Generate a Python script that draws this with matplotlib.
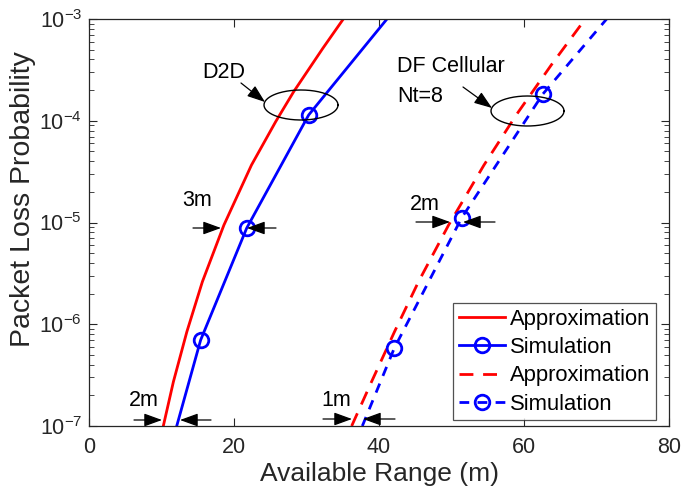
import numpy as np
import matplotlib
matplotlib.use('Agg')
import matplotlib.pyplot as plt

plt.rcParams['font.family'] = ['Liberation Sans', 'DejaVu Sans']
plt.rcParams['mathtext.fontset'] = 'custom'
plt.rcParams['mathtext.rm'] = 'Liberation Sans'
plt.rcParams['mathtext.it'] = 'Liberation Sans'

# D2D, approximation (solid red)
d2d_app_x = [10.25, 11.64, 13.50, 15.64, 18.61, 22.41, 25.75, 28.23, 32.25, 35.08]
d2d_app_y = [1e-7, 2.72e-7, 8.45e-7, 2.62e-6, 9.44e-6, 3.67e-5, 9.8e-5, 1.93e-4, 5.15e-4, 1e-3]

# D2D, simulation (solid blue)
d2d_sim_x = [12.1, 15.4, 21.75, 30.3, 41.1]
d2d_sim_y = [1e-7, 7.0e-7, 8.8e-6, 1.14e-4, 1e-3]
d2d_sim_mark = [1, 2, 3]

# DF cellular Nt=8, approximation (dashed red)
df_app_x = [36.23, 38.97, 42.14, 45.45, 49.60, 54.48, 58.93, 63.76, 68.45]
df_app_y = [1e-7, 2.72e-7, 8.45e-7, 2.62e-6, 9.44e-6, 3.67e-5, 1.14e-4, 3.53e-4, 1e-3]

# DF cellular Nt=8, simulation (dashed blue)
df_sim_x = [37.7, 42.1, 51.4, 62.6, 71.4]
df_sim_y = [1e-7, 5.8e-7, 1.11e-5, 1.83e-4, 1e-3]
df_sim_mark = [1, 2, 3]

legend_labels = ['Approximation', 'Simulation', 'Approximation', 'Simulation']

ARROW = dict(arrowstyle='-|>,head_length=1.1,head_width=0.4',
             color='k', lw=0.9, shrinkA=0, shrinkB=0)


# pixel position in the reference -> data coordinates
def px2data(px, py):
    return (px - 89) / 7.25, 10 ** (-3 - (py - 19) / 101.75)


# draw an ellipse that looks round on the log y axis
def log_ellipse(ax, cpx, cpy, wpx, hpx):
    t = np.linspace(0, 2 * np.pi, 200)
    xs = cpx + wpx / 2 * np.cos(t)
    ys = cpy + hpx / 2 * np.sin(t)
    x, y = px2data(xs, ys)
    ax.plot(x, y, color='k', lw=1.0, zorder=5)


def arrow(ax, p0, p1):
    ax.annotate('', xy=px2data(*p1), xytext=px2data(*p0), arrowprops=ARROW, zorder=6)


# two opposite arrows at one level
def gap_arrows(ax, py, l0, l1, r0, r1):
    arrow(ax, (l0, py), (l1, py))
    arrow(ax, (r0, py), (r1, py))


fig = plt.figure(figsize=(6.81, 4.87), dpi=100)
ax = fig.add_axes([89 / 681, 1 - 426 / 487, 580 / 681, 407 / 487])

ax.plot(d2d_app_x, d2d_app_y, '-', color='r', lw=2, label=legend_labels[0])
ax.plot(d2d_sim_x, d2d_sim_y, '-o', color='b', lw=2, ms=10.5, mfc='none', mew=2,
        markevery=d2d_sim_mark, label=legend_labels[1])
ax.plot(df_app_x, df_app_y, '--', color='r', lw=2, dashes=(5, 3.5), label=legend_labels[2])
ax.plot(df_sim_x, df_sim_y, '--o', color='b', lw=2, ms=10.5, mfc='none', mew=2,
        dashes=(3.5, 3), markevery=df_sim_mark, label=legend_labels[3])

ax.set_yscale('log')
ax.set_xlim(0, 80)
ax.set_ylim(1e-7, 1e-3)
ax.set_xticks([0, 20, 40, 60, 80])
ax.set_yticks([1e-7, 1e-6, 1e-5, 1e-4, 1e-3])
ax.set_yticklabels([r'$10^{-7}$', r'$10^{-6}$', r'$10^{-5}$', r'$10^{-4}$', r'$10^{-3}$'])
ax.tick_params(which='both', direction='in', top=True, right=True,
               labelsize=15.5, colors='#262626')
ax.tick_params(axis='x', pad=8)
ax.tick_params(axis='y', pad=5)
ax.tick_params(which='major', length=6, width=0.8)
ax.tick_params(which='minor', length=3.5, width=0.6)
for s in ax.spines.values():
    s.set_color('#262626')
    s.set_linewidth(0.9)

ax.set_xlabel('Available Range (m)', fontsize=19, color='#262626')
ax.set_ylabel('Packet Loss Probability', fontsize=20.5, color='#262626')
ax.xaxis.set_label_coords(0.5, -0.088)
ax.yaxis.set_label_coords(-0.092, 0.558)

leg = ax.legend(loc='lower right', fontsize=15.8, frameon=True, fancybox=False,
                handlelength=2.1, handletextpad=0.25, borderpad=0.25, labelspacing=0.33,
                borderaxespad=0, bbox_to_anchor=(656 / 681, 1 - 420 / 487),
                bbox_transform=fig.transFigure)
leg.get_frame().set_edgecolor('#262626')
leg.get_frame().set_linewidth(0.9)

# D2D group
ax.text(*px2data(224, 73), 'D2D', fontsize=15.5, ha='center', va='center')
log_ellipse(ax, 301, 105, 74, 30)
arrow(ax, (241, 83), (265, 102))

# DF cellular group
ax.text(*px2data(397, 67), 'DF Cellular', fontsize=15.5, ha='left', va='center')
ax.text(*px2data(397, 97), 'Nt=8', fontsize=15.5, ha='left', va='center')
log_ellipse(ax, 527.5, 111, 73, 30)
arrow(ax, (463, 87), (492, 108))

# gap labels
ax.text(*px2data(197, 200), '3m', fontsize=15.5, ha='center', va='center')
gap_arrows(ax, 228, 193, 221, 276, 247)
ax.text(*px2data(144, 401), '2m', fontsize=15.5, ha='center', va='center')
gap_arrows(ax, 420, 134, 162, 211, 180)
ax.text(*px2data(336, 401), '1m', fontsize=15.5, ha='center', va='center')
gap_arrows(ax, 419, 323, 352, 395, 363)
ax.text(*px2data(425, 204), '2m', fontsize=15.5, ha='center', va='center')
gap_arrows(ax, 222, 416, 450, 495, 463)

fig.savefig('out.png', dpi=100)
